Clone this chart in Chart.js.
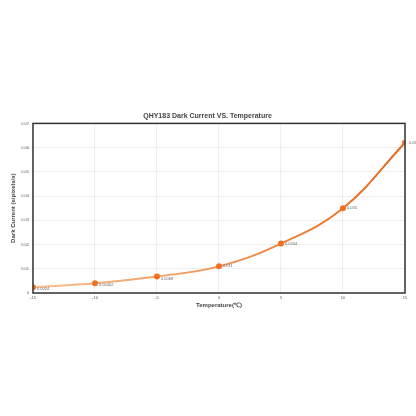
<!DOCTYPE html><html><head><script src="https://cdn.jsdelivr.net/npm/chart.js@4"></script>
<style>body{margin:0;background:#fff}#w{position:absolute;left:0;top:110px;width:416px;height:199px}</style></head><body><div id="w"><canvas id="c"></canvas></div><script>
const temps=[-15,-10,-5,0,5,10,15];
const current=[0.0024,0.00402,0.0068,0.011,0.0204,0.035,0.062];
const labels=['0.0024','0.00402','0.0068','0.011','0.0204','0.035','0.062'];
const frame={id:'frame',afterDatasetsDraw(ch){const a=ch.chartArea,x=ch.ctx;x.save();x.strokeStyle='#333';x.lineWidth=1.5;x.strokeRect(a.left,a.top,a.width,a.height);
x.font='4px sans-serif';x.fillStyle='#666';x.textBaseline='middle';
ch.getDatasetMeta(0).data.forEach((p,i)=>{x.fillText(labels[i],p.x+4,p.y+(i<3?2:0));});x.restore();}};
new Chart(document.getElementById('c'),{type:'line',data:{datasets:[{data:temps.map((t,i)=>({x:t,y:current[i]})),
borderColor:(c)=>{const a=c.chart.chartArea;if(!a)return '#f08030';const g=c.chart.ctx.createLinearGradient(a.left,0,a.right,0);g.addColorStop(0,'#f8c090');g.addColorStop(1,'#e8681a');return g;},
borderWidth:2,tension:0.4,pointRadius:2,pointBackgroundColor:'#f07020',pointBorderColor:'#f07020'}]},
options:{responsive:true,maintainAspectRatio:false,animation:false,layout:{padding:{left:10,right:11}},
plugins:{legend:{display:false},title:{display:true,text:'QHY183 Dark Current VS. Temperature',color:'#444',font:{size:7,weight:'bold'},padding:{top:2,bottom:3}}},
scales:{x:{type:'linear',min:-15,max:15,ticks:{stepSize:5,font:{size:4},color:'#555',padding:2},grid:{color:'#eee',tickLength:0},border:{display:false},title:{display:true,text:'Temperature(℃)',color:'#444',font:{size:6,weight:'bold'},padding:0}},
y:{min:0,max:0.07,ticks:{stepSize:0.01,font:{size:4},color:'#555',padding:4},grid:{color:'#eee',tickLength:0},border:{display:false},title:{display:true,text:'Dark Current (e/pixels/s)',color:'#444',font:{size:6,weight:'bold'},padding:0}}}},plugins:[frame]});
</script></body></html>
